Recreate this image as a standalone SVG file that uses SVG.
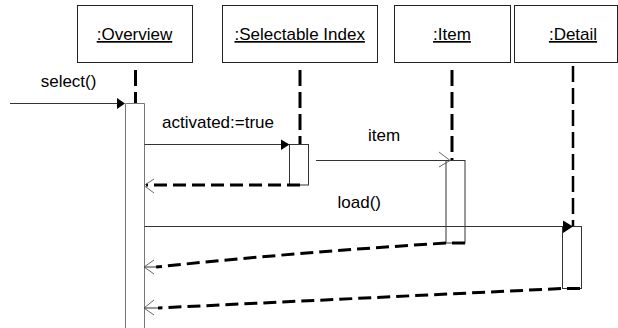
<svg xmlns="http://www.w3.org/2000/svg" width="618" height="328" viewBox="0 0 618 328">
<style>
text{font-family:"Liberation Sans",Arial,sans-serif;font-size:17px;fill:#000}
.obj{fill:#fff;stroke:#222;stroke-width:1}
.name{text-anchor:middle;text-decoration:underline}
.life{fill:none;stroke:#000;stroke-width:3;stroke-dasharray:16 6}
.act{fill:#fff;stroke:#333;stroke-width:1}
.msg{fill:none;stroke:#333;stroke-width:1}
.ret{fill:none;stroke:#000;stroke-width:3;stroke-dasharray:13 6}
.open{fill:none;stroke:#666;stroke-width:1}
.fill{fill:#000;stroke:none}
</style>
<g id="overview">
<rect class="obj" x="77.5" y="5.5" width="115" height="57"/>
<text class="name" x="134.5" y="40">:Overview</text>
<path class="life" d="M135.5 70V103"/>
<path class="act" d="M125.5 330V103.5H144.5V330" style="stroke:#777"/>
</g>
<g id="selectable-index">
<rect class="obj" x="222.5" y="5.5" width="155" height="57"/>
<text class="name" x="299.7" y="40">:Selectable Index</text>
<path class="life" d="M300 70V144"/>
<rect class="act" x="289.5" y="144.5" width="19" height="40.5"/>
</g>
<g id="item">
<rect class="obj" x="394.5" y="5.5" width="116" height="57"/>
<text class="name" x="452" y="40">:Item</text>
<path class="life" d="M452 70V160"/>
<rect class="act" x="446" y="160.5" width="19" height="82.5"/>
</g>
<g id="detail">
<rect class="obj" x="514.5" y="5.5" width="103" height="57"/>
<text class="name" x="573" y="40">:Detail</text>
<path class="life" d="M573 66V226" style="stroke-width:2.5"/>
<rect class="act" x="562.5" y="226.5" width="19" height="62"/>
</g>
<g id="connectors">
<path class="msg" d="M10 103.5H117"/>
<path class="fill" d="M117 98L125 103.5L117 109Z"/>
<text x="40.7" y="87">select()</text>
<path class="msg" d="M144.5 144.5H281"/>
<path class="fill" d="M281 139.5L289.5 144.5L281 150Z"/>
<text x="162" y="128">activated:=true</text>
<path class="msg" d="M316 160.5H450"/>
<path class="open" d="M439 152L450 160.5L439 167"/>
<text x="368" y="141">item</text>
<path class="ret" d="M300 185H146"/>
<path class="open" d="M154 179L144 185.5L154 193"/>
<path class="msg" d="M144.5 226.5H563"/>
<path class="fill" d="M563 220.5L573 226.5L563 233Z"/>
<text x="337.5" y="208">load()</text>
<path class="ret" d="M465 243H447Q300 252 156 267"/>
<path class="open" d="M154 260L144 267L154 274"/>
<path class="msg" d="M144 267H157"/>
<path class="ret" d="M580 288.5H562L158 308"/>
<path class="open" d="M154 300L144 308L154 315"/>
<path class="msg" d="M144 308H158"/>
</g>
</svg>
